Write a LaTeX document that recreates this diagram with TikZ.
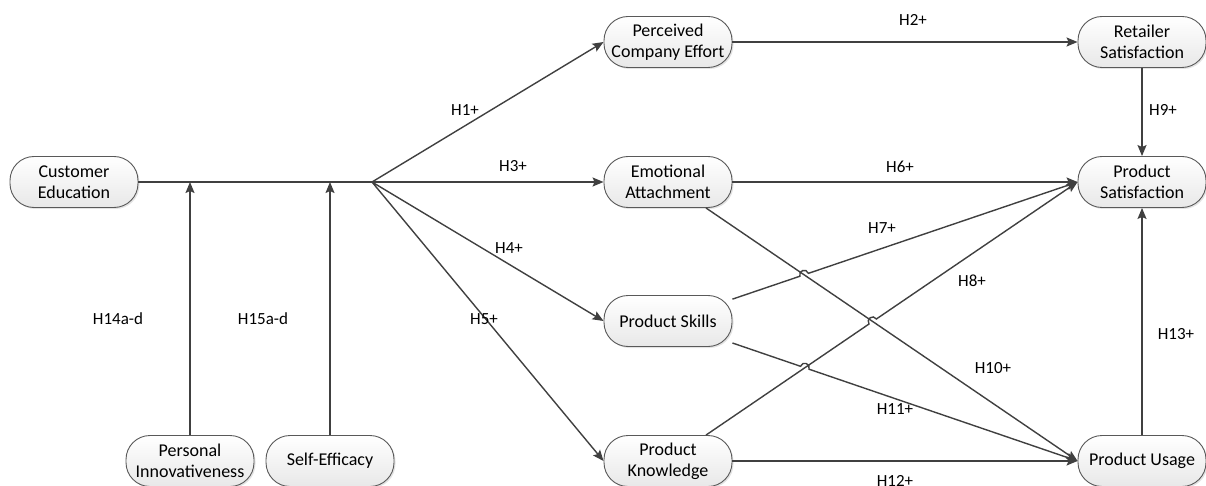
\documentclass[tikz,border=0pt]{standalone}
\usepackage{fontspec}
\setmainfont{Carlito}
\usetikzlibrary{arrows.meta,calc,intersections,shadows}
\begin{document}
\begin{tikzpicture}[x=1pt,y=-1pt,
  box/.style={rectangle, rounded corners=24pt, draw=black!65, line width=0.9pt,
    top color=white, bottom color=black!9, minimum width=128pt, minimum height=51pt,
    inner sep=1pt, align=center, font=\fontsize{18}{21}\selectfont,
    drop shadow={shadow xshift=1.5pt, shadow yshift=-1.5pt, opacity=0.22}},
  link/.style={draw=black!75, line width=1.4pt},
  arr/.style={link, -{Stealth[length=11pt,width=9pt,inset=2pt]}},
  lbl/.style={font=\fontsize{17}{20}\selectfont, inner sep=0pt}]
\useasboundingbox (0,0) rectangle (1206,486);

% constructs
\node[box] (ce)   at (74,182)   {Customer\\Education};
\node[box] (pi)   at (190,461)  {Personal\\Innovativeness};
\node[box] (se)   at (330,461)  {Self-Efficacy};
\node[box] (pce)  at (668,42)   {Perceived\\Company Effort};
\node[box] (ea)   at (668,182)  {Emotional\\Attachment};
\node[box] (ps)   at (668,321)  {Product Skills};
\node[box] (pk)   at (668,461)  {Product\\Knowledge};
\node[box] (rs)   at (1142,42)  {Retailer\\Satisfaction};
\node[box] (psat) at (1142,182) {Product\\Satisfaction};
\node[box] (pu)   at (1142,461) {Product Usage};

% trunk from customer education, with moderator joins
\coordinate (j)  at (372,182);
\coordinate (m1) at (190,182);
\coordinate (m2) at (330,182);
\draw[link] (ce) -- (j);
\draw[arr] (pi) -- (m1);
\draw[arr] (se) -- (m2);

% fan-out
\draw[arr] (j) -- (pce.west);
\draw[arr] (j) -- (ea.west);
\draw[arr] (j) -- (ps.west);
\draw[arr] (j) -- (pk.west);

% straight links
\draw[arr] (pce) -- (rs);
\draw[arr] (rs) -- (psat);
\draw[arr] (ea) -- (psat);
\draw[arr] (pk) -- (pu);
\draw[arr] (pu) -- (psat);

% diagonal links and their crossings
\path[name path=p10] (ea) -- (pu.west);
\path[name path=p7]  (ps) -- (psat.west);
\path[name path=p8]  (pk) -- (psat.west);
\path[name path=p11] (ps) -- (pu.west);
\path[name intersections={of=p7 and p10, by=x7}];
\path[name intersections={of=p8 and p10, by=x8}];
\path[name intersections={of=p11 and p8, by=x11}];

\coordinate (h7a)  at ($(x7)!4.5pt!(ps)$);
\coordinate (h7b)  at ($(x7)!4.5pt!(psat.west)$);
\coordinate (h8a)  at ($(x8)!4.5pt!(pk)$);
\coordinate (h8b)  at ($(x8)!4.5pt!(psat.west)$);
\coordinate (h11a) at ($(x11)!4.5pt!(ps)$);
\coordinate (h11b) at ($(x11)!4.5pt!(pu.west)$);

\draw[arr] (ea) -- (pu.west);
\draw[arr] (ps) -- (h7a) .. controls ($(h7a)!6pt!90:(h7b)$) and ($(h7b)!6pt!-90:(h7a)$) .. (h7b) -- (psat.west);
\draw[arr] (pk) -- (h8a) .. controls ($(h8a)!6pt!90:(h8b)$) and ($(h8b)!6pt!-90:(h8a)$) .. (h8b) -- (psat.west);
\draw[arr] (ps) -- (h11a) .. controls ($(h11a)!6pt!90:(h11b)$) and ($(h11b)!6pt!-90:(h11a)$) .. (h11b) -- (pu.west);

% hypothesis labels
\node[lbl] (l1)  at (465,110) {H1+};
\node[lbl] (l2)  at (913,20)  {H2+};
\node[lbl] (l3)  at (513,166) {H3+};
\node[lbl] (l4)  at (509,248) {H4+};
\node[lbl] (l5)  at (484,319) {H5+};
\node[lbl] (l6)  at (900,167) {H6+};
\node[lbl] (l7)  at (882,228) {H7+};
\node[lbl] (l8)  at (972,281) {H8+};
\node[lbl] (l9)  at (1163,110) {H9+};
\node[lbl] (l10) at (993,368) {H10+};
\node[lbl] (l11) at (895,409) {H11+};
\node[lbl] (l12) at (895,481) {H12+};
\node[lbl] (l13) at (1176,334) {H13+};
\node[lbl] (l14) at (118,319) {H14a-d};
\node[lbl] (l15) at (263,319) {H15a-d};
\end{tikzpicture}
\end{document}
